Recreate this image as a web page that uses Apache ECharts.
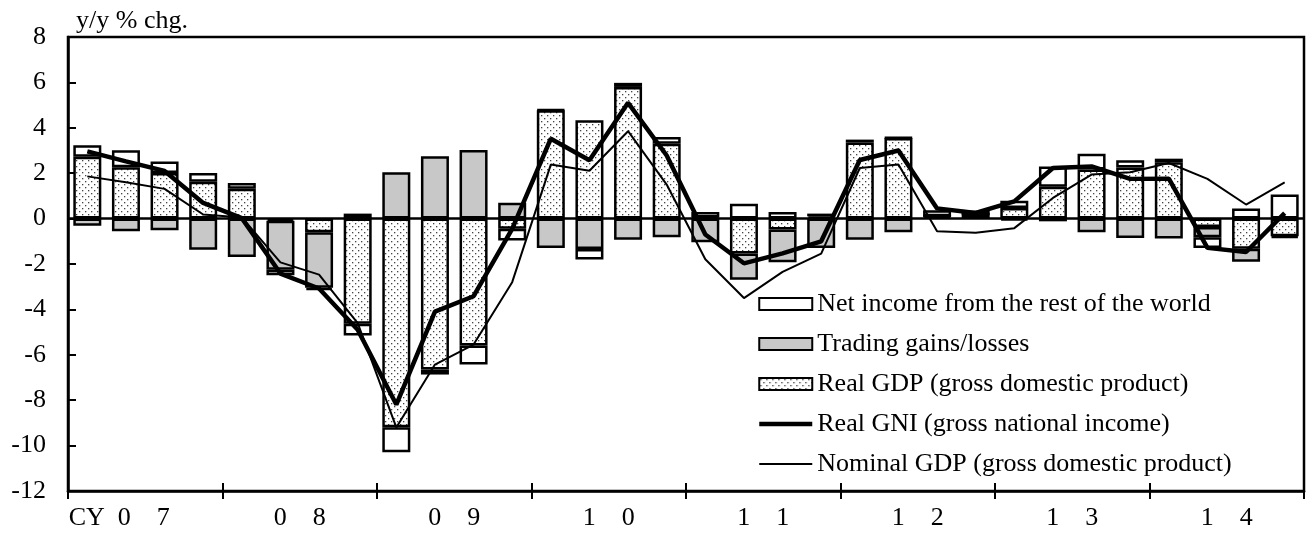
<!DOCTYPE html>
<html>
<head>
<meta charset="utf-8">
<script src="https://cdn.jsdelivr.net/npm/echarts@6/dist/echarts.min.js"></script>
<style>
  html, body { margin: 0; padding: 0; background: #fff; }
  #chart { width: 1306px; height: 545px; }
</style>
</head>
<body>
<div id="chart"></div>
<script>
// Quarters CY07 Q1 .. CY14 Q4
const quarters = [
  '07Q1', '07Q2', '07Q3', '07Q4', '08Q1', '08Q2', '08Q3', '08Q4',
  '09Q1', '09Q2', '09Q3', '09Q4', '10Q1', '10Q2', '10Q3', '10Q4',
  '11Q1', '11Q2', '11Q3', '11Q4', '12Q1', '12Q2', '12Q3', '12Q4',
  '13Q1', '13Q2', '13Q3', '13Q4', '14Q1', '14Q2', '14Q3', '14Q4',
];

// Year labels shown under the axis (one per 4 quarters)
const yearLabels = ['CY  0    7        ', '0    8', '0    9', '1    0', '1    1', '1    2', '1    3', '1    4'];

// Contributions, y/y % chg.
const realGdp = [
  2.72, 2.26, 2.01, 1.62, 1.31, -0.1, -0.6, -4.63,
  -9.19, -6.65, -5.59, -0.45, 4.77, 4.33, 5.8, 3.3,
  0.05, -1.54, -0.48, 0.1, 3.35, 3.55, 0.1, 0.2,
  0.47, 1.4, 2.16, 2.25, 2.48, -0.37, -1.33, -0.78,
];
const tradingGains = [
  -0.31, -0.56, -0.51, -1.37, -1.69, -2.15, -2.45, 0.22,
  2.04, 2.75, 3.02, 0.7, -1.29, -1.34, -0.93, -0.82,
  -1.04, -1.15, -1.44, -1.3, -0.93, -0.6, 0.0, 0.0,
  -0.07, -0.12, -0.6, -0.85, -0.88, -0.45, -0.57, -0.07,
];
const netIncome = [
  0.51, 0.75, 0.51, 0.39, 0.26, -0.25, -0.11, -0.52,
  -1.1, -0.22, -0.84, -0.51, 0.03, -0.46, 0.18, 0.29,
  0.24, 0.65, 0.29, 0.12, 0.13, 0.02, 0.27, 0.15,
  0.32, 0.9, 0.7, 0.32, 0.16, -0.47, 0.44, 1.06,
];
const realGni = [
  2.96, 2.52, 2.1, 0.69, 0.02, -2.42, -3.08, -4.9,
  -8.19, -4.1, -3.42, -0.45, 3.52, 2.57, 5.1, 2.78,
  -0.7, -1.97, -1.53, -1.0, 2.58, 3.0, 0.45, 0.25,
  0.76, 2.23, 2.3, 1.75, 1.76, -1.29, -1.47, 0.24,
];
const nominalGdp = [
  1.86, 1.6, 1.31, 0.18, 0.05, -1.93, -2.47, -4.6,
  -9.2, -6.43, -5.55, -2.8, 2.38, 2.11, 3.85, 1.5,
  -1.79, -3.5, -2.35, -1.54, 2.23, 2.38, -0.56, -0.62,
  -0.42, 0.91, 1.94, 2.04, 2.45, 1.75, 0.62, 1.6,
];

const FONT = '"Liberation Serif", "Times New Roman", serif';

// dotted fill for the real GDP bars
function dotPattern() {
  const c = document.createElement('canvas');
  c.width = 6;
  c.height = 6;
  const ctx = c.getContext('2d');
  ctx.fillStyle = '#fff';
  ctx.fillRect(0, 0, 6, 6);
  ctx.fillStyle = '#444';
  ctx.fillRect(1, 1, 1.3, 1.3);
  ctx.fillRect(4, 4, 1.3, 1.3);
  return c;
}

const barBorder = { borderColor: '#000', borderWidth: 2.5 };

const chart = echarts.init(document.getElementById('chart'));

const option = {
  animation: false,
  backgroundColor: '#fff',
  textStyle: { fontFamily: FONT, color: '#000' },
  grid: {
    left: 68,
    right: 2,
    top: 37,
    bottom: 54,
    show: true,
    borderColor: '#000',
    borderWidth: 2.5,
    containLabel: false,
  },
  legend: {
    orient: 'vertical',
    left: 757,
    top: 291,
    itemWidth: 53,
    itemHeight: 12,
    itemGap: 14,
    padding: 0,
    textStyle: { fontFamily: FONT, fontSize: 26, color: '#000' },
    data: [
      { name: 'Net income from the rest of the world', icon: 'rect' },
      { name: 'Trading gains/losses', icon: 'rect' },
      { name: 'Real GDP (gross domestic product)', icon: 'rect' },
      {
        name: 'Real GNI (gross national income)',
        itemStyle: { opacity: 0 },
        lineStyle: { width: 4.5, color: '#000' },
      },
      {
        name: 'Nominal GDP (gross domestic product)',
        itemStyle: { opacity: 0 },
        lineStyle: { width: 2, color: '#000' },
      },
    ],
  },
  xAxis: [
    {
      // quarters: carries the data, drawn invisibly
      type: 'category',
      data: quarters,
      boundaryGap: true,
      show: false,
    },
    {
      // years: outside ticks + labels
      type: 'category',
      data: yearLabels,
      position: 'bottom',
      boundaryGap: true,
      axisLine: { show: true, lineStyle: { color: '#000', width: 2.5 } },
      axisTick: { show: true, inside: false, length: 8, interval: 0, lineStyle: { color: '#000', width: 2 } },
      axisLabel: { interval: 0, margin: 14, fontFamily: FONT, fontSize: 26, color: '#000' },
    },
    {
      // years: inside ticks only
      type: 'category',
      data: yearLabels,
      position: 'bottom',
      boundaryGap: true,
      axisLine: { show: false },
      axisTick: { show: true, inside: true, length: 8, interval: 0, lineStyle: { color: '#000', width: 2 } },
      axisLabel: { show: false },
    },
  ],
  yAxis: {
    type: 'value',
    min: -12,
    max: 8,
    interval: 2,
    name: 'y/y % chg.',
    nameLocation: 'end',
    nameGap: 16,
    nameTextStyle: {
      fontFamily: FONT,
      fontSize: 26,
      color: '#000',
      align: 'left',
      verticalAlign: 'middle',
      padding: [0, 0, 0, 8],
    },
    axisLine: { show: true, lineStyle: { color: '#000', width: 2.5 } },
    axisTick: { show: true, inside: true, length: 8, lineStyle: { color: '#000', width: 2 } },
    axisLabel: { margin: 22, fontFamily: FONT, fontSize: 26, color: '#000' },
    splitLine: { show: false },
  },
  series: [
    {
      name: 'Real GDP (gross domestic product)',
      type: 'bar',
      stack: 'total',
      barWidth: 28,
      data: realGdp,
      itemStyle: { color: { image: dotPattern(), repeat: 'repeat' }, ...barBorder },
    },
    {
      name: 'Trading gains/losses',
      type: 'bar',
      stack: 'total',
      barWidth: 28,
      data: tradingGains,
      itemStyle: { color: '#c8c8c8', ...barBorder },
    },
    {
      name: 'Net income from the rest of the world',
      type: 'bar',
      stack: 'total',
      barWidth: 28,
      data: netIncome,
      itemStyle: { color: '#fff', ...barBorder },
    },
    {
      name: 'Real GNI (gross national income)',
      type: 'line',
      data: realGni,
      symbol: 'none',
      lineStyle: { color: '#000', width: 4.5 },
      itemStyle: { color: '#000' },
    },
    {
      name: 'Nominal GDP (gross domestic product)',
      type: 'line',
      data: nominalGdp,
      symbol: 'none',
      lineStyle: { color: '#000', width: 2 },
      itemStyle: { color: '#000' },
      // zero line across the plot
      markLine: {
        silent: true,
        symbol: 'none',
        label: { show: false },
        lineStyle: { color: '#000', width: 2.5, type: 'solid' },
        data: [{ yAxis: 0 }],
      },
    },
  ],
};

chart.setOption(option);
</script>
</body>
</html>
